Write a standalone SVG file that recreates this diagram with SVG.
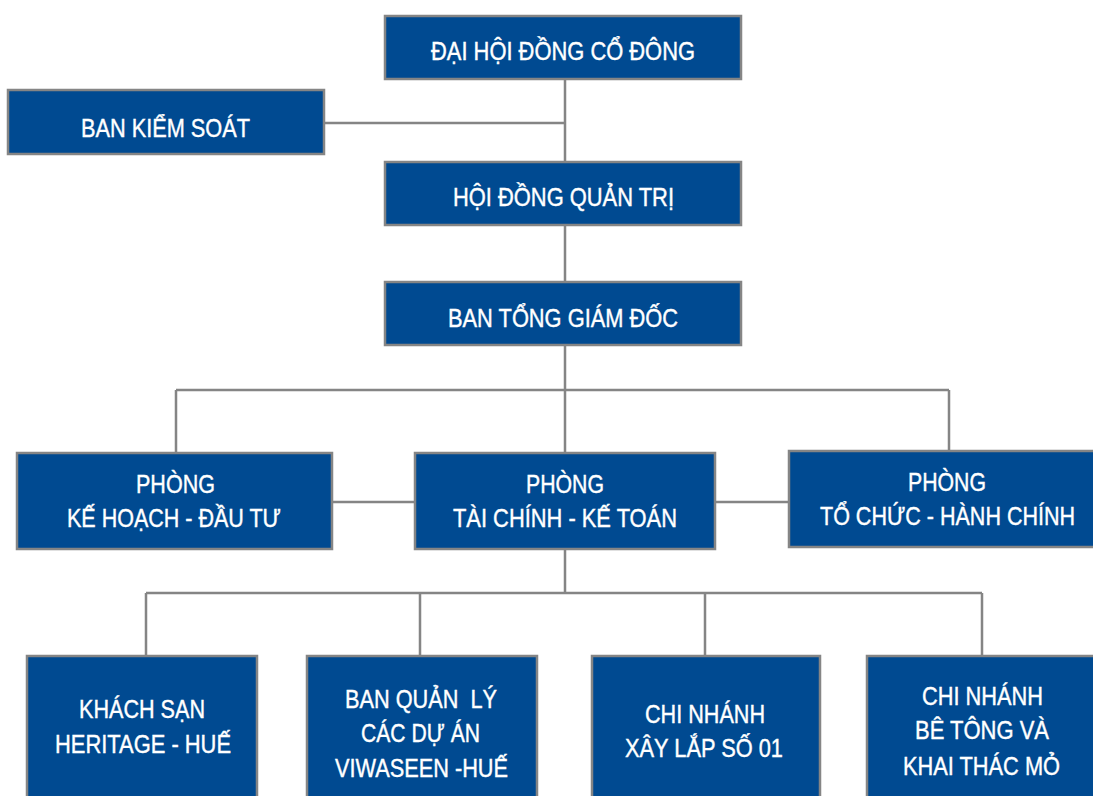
<svg xmlns="http://www.w3.org/2000/svg" width="1093" height="796" viewBox="0 0 1093 796">
<style>
.box{fill:#004a91;stroke:#858585;stroke-width:2.5}
.t{font-family:"Liberation Sans",Arial,sans-serif;font-size:25px;fill:#ffffff;stroke:#ffffff;stroke-width:0.4}
.ln{stroke:#858585;stroke-width:2.5;fill:none}
</style>
<rect width="1093" height="796" fill="#ffffff"/>
<g id="connectors">
<path class="ln" d="M565 79V162M324 123H565M565 225V282M565 345V390M176 390H949M176 390V453M565 390V453M949 390V451M332 502H415M715 502H789M565 549V593M146 593H982M146 593V656M420 593V656M705 593V656M982 593V656"/>
</g>
<g id="n1"><rect class="box" x="385" y="16" width="356" height="63"/><text class="t" x="431" y="60" textLength="264" lengthAdjust="spacingAndGlyphs">ĐẠI HỘI ĐỒNG CỔ ĐÔNG</text></g>
<g id="n2"><rect class="box" x="8" y="90" width="316" height="64"/><text class="t" x="81" y="137" textLength="169" lengthAdjust="spacingAndGlyphs">BAN KIỂM SOÁT</text></g>
<g id="n3"><rect class="box" x="385" y="162" width="356" height="63"/><text class="t" x="453" y="206" textLength="221" lengthAdjust="spacingAndGlyphs">HỘI ĐỒNG QUẢN TRỊ</text></g>
<g id="n4"><rect class="box" x="385" y="282" width="356" height="63"/><text class="t" x="448" y="327" textLength="230" lengthAdjust="spacingAndGlyphs">BAN TỔNG GIÁM ĐỐC</text></g>
<g id="n5"><rect class="box" x="17" y="453" width="315" height="96"/><text class="t" x="136" y="493" textLength="79" lengthAdjust="spacingAndGlyphs">PHÒNG</text><text class="t" x="67" y="527" textLength="214" lengthAdjust="spacingAndGlyphs">KẾ HOẠCH - ĐẦU TƯ</text></g>
<g id="n6"><rect class="box" x="415" y="453" width="300" height="96"/><text class="t" x="526" y="493" textLength="78" lengthAdjust="spacingAndGlyphs">PHÒNG</text><text class="t" x="453" y="527" textLength="224" lengthAdjust="spacingAndGlyphs">TÀI CHÍNH - KẾ TOÁN</text></g>
<g id="n7"><rect class="box" x="789" y="451" width="310" height="96"/><text class="t" x="908" y="491" textLength="78" lengthAdjust="spacingAndGlyphs">PHÒNG</text><text class="t" transform="translate(820 525) scale(0.82 1)" x="0" y="0" textLength="311" lengthAdjust="spacingAndGlyphs">TỔ CHỨC - HÀNH CHÍNH</text></g>
<g id="n8"><rect class="box" x="27" y="656" width="230" height="150"/><text class="t" x="79" y="718" textLength="126" lengthAdjust="spacingAndGlyphs">KHÁCH SẠN</text><text class="t" x="55" y="753" textLength="176" lengthAdjust="spacingAndGlyphs">HERITAGE - HUẾ</text></g>
<g id="n9"><rect class="box" x="307" y="656" width="230" height="150"/><text class="t" x="345" y="708" textLength="152" lengthAdjust="spacingAndGlyphs" xml:space="preserve">BAN QUẢN  LÝ</text><text class="t" x="361" y="742" textLength="119" lengthAdjust="spacingAndGlyphs">CÁC DỰ ÁN</text><text class="t" x="335" y="777" textLength="173" lengthAdjust="spacingAndGlyphs">VIWASEEN -HUẾ</text></g>
<g id="n10"><rect class="box" x="592" y="656" width="228" height="150"/><text class="t" x="645" y="723" textLength="120" lengthAdjust="spacingAndGlyphs">CHI NHÁNH</text><text class="t" x="625" y="757" textLength="158" lengthAdjust="spacingAndGlyphs">XÂY LẮP SỐ 01</text></g>
<g id="n11"><rect class="box" x="867" y="656" width="240" height="150"/><text class="t" x="922" y="705" textLength="121" lengthAdjust="spacingAndGlyphs">CHI NHÁNH</text><text class="t" x="915" y="739" textLength="134" lengthAdjust="spacingAndGlyphs">BÊ TÔNG VÀ</text><text class="t" x="903" y="775" textLength="157" lengthAdjust="spacingAndGlyphs">KHAI THÁC MỎ</text></g>
</svg>
